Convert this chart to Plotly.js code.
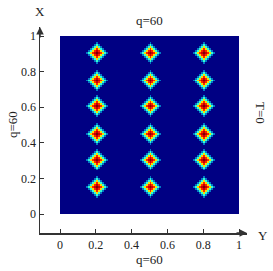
<!DOCTYPE html>
<html><head><meta charset="utf-8">
<script src="https://cdn.plot.ly/plotly-3.0.1.min.js"></script>
<style>html,body{margin:0;padding:0;background:#fff;}#chart{width:273px;height:271px;}</style>
</head><body><div id="chart"></div>
<script>
// Spot centres
var spotX = [0.2, 0.5, 0.8];
var spotY = [0.15, 0.3, 0.45, 0.6, 0.75, 0.9];
var ringValues = [1.0, 0.93, 0.84, 0.66, 0.42, 0.2];
var nCells = 90;
var tickVals = [0, 0.2, 0.4, 0.6, 0.8, 1];
var tickText = ['0', '0.2', '0.4', '0.6', '0.8', '1'];

// build grid of cell centres
var xs = [], ys = [];
for (var i = 0; i < nCells; i++) { xs.push((i + 0.5) / nCells); ys.push((i + 0.5) / nCells); }
var z = [];
for (var r = 0; r < nCells; r++) { var row = []; for (var c = 0; c < nCells; c++) row.push(0); z.push(row); }
spotX.forEach(function (sx) {
  spotY.forEach(function (sy) {
    var ci = Math.floor(sx * nCells), ri = Math.floor(sy * nCells);
    var R = ringValues.length;
    for (var a = -R; a <= R; a++) {
      for (var b = -R; b <= R; b++) {
        var ring = Math.abs(a) + Math.abs(b);
        if (ring < R) {
          var rr = ri + a, cc = ci + b;
          if (rr >= 0 && rr < nCells && cc >= 0 && cc < nCells) z[rr][cc] = Math.max(z[rr][cc], ringValues[ring]);
        }
      }
    }
  });
});

// pixel geometry helpers
var L = 40, R_ = 247, T = 27, B = 233;
function px(x) { return (x - L) / (R_ - L); }
function py(y) { return (B - y) / (B - T); }
var x0 = 60, x1 = 239, y0 = 214, y1 = 36;
var xr = [(L - x0) / (x1 - x0), 1 + (R_ - x1) / (x1 - x0)];
var yr = [(y0 - B) / (y0 - y1), 1 + (y1 - T) / (y0 - y1)];

var font = {family: 'Liberation Serif, Times New Roman, serif', size: 12, color: '#222'};
var tfont = {family: 'Liberation Serif, Times New Roman, serif', size: 13, color: '#222'};

var data = [{
  type: 'heatmap', x: xs, y: ys, z: z, zmin: 0, zmax: 1,
  colorscale: 'Jet', showscale: false, hoverinfo: 'skip'
}];

var axisCommon = {
  showline: true, linecolor: '#333', linewidth: 1.5, ticks: 'inside', ticklen: 4, tickwidth: 1,
  tickcolor: '#333', tickvals: tickVals, ticktext: tickText, showgrid: false, zeroline: false,
  tickfont: font, fixedrange: true
};
function lab(x, y, text, angle) {
  return {x: px(x), y: py(y), xref: 'paper', yref: 'paper', text: text, showarrow: false,
          font: tfont, textangle: angle || 0, xanchor: 'center', yanchor: 'middle'};
}
var layout = {
  width: 273, height: 271,
  margin: {l: L, r: 273 - R_, t: T, b: 271 - B, pad: 0},
  paper_bgcolor: '#fff', plot_bgcolor: '#fff',
  xaxis: Object.assign({}, axisCommon, {range: xr}),
  yaxis: Object.assign({}, axisCommon, {range: yr}),
  showlegend: false,
  annotations: [
    {x: 1, y: 0, xref: 'paper', yref: 'paper', ax: -12, ay: 0, showarrow: true, arrowhead: 2, arrowsize: 1, arrowwidth: 1.5, arrowcolor: '#333', text: ''},
    {x: 0, y: 1, xref: 'paper', yref: 'paper', ax: 0, ay: 12, showarrow: true, arrowhead: 2, arrowsize: 1, arrowwidth: 1.5, arrowcolor: '#333', text: ''},
    lab(149, 20, 'q=60'),
    lab(149, 259, 'q=60'),
    lab(12, 125, 'q=60', -90),
    lab(261, 113, 'T=0', 90),
    lab(40, 11, 'X'),
    lab(263, 235, 'Y')
  ]
};
Plotly.newPlot('chart', data, layout, {displayModeBar: false, staticPlot: true});
</script></body></html>
